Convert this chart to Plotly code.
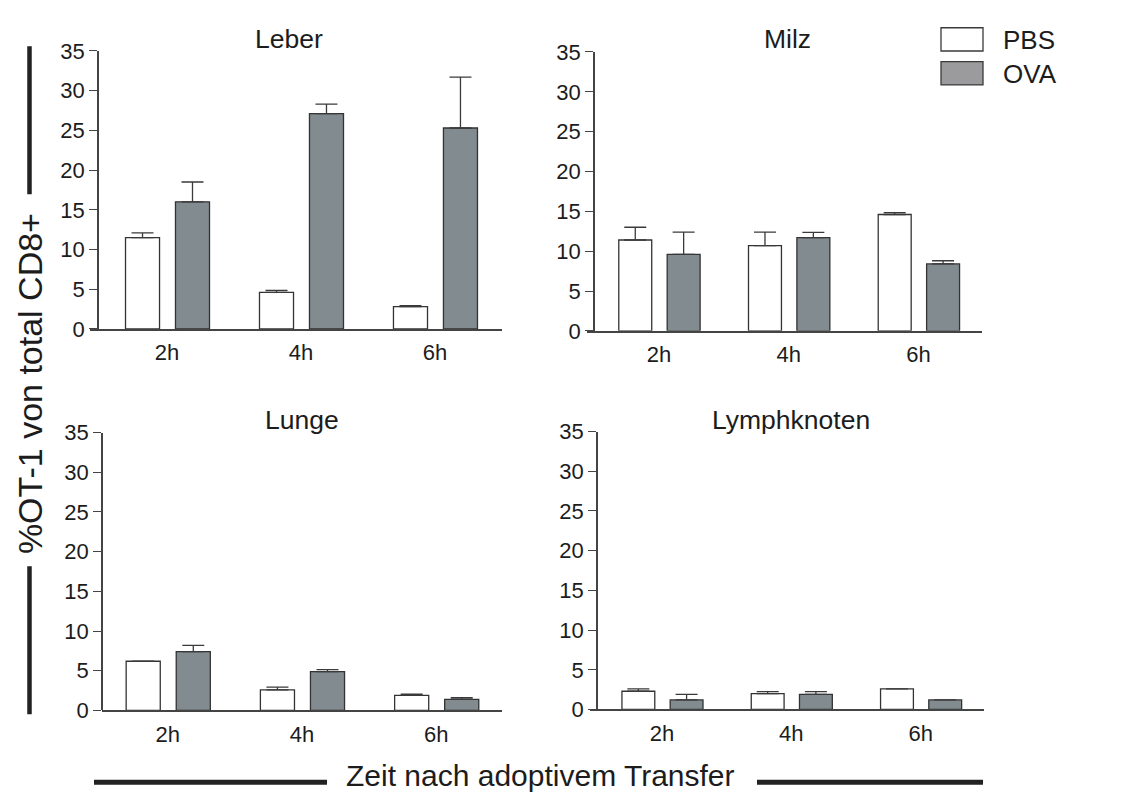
import plotly.graph_objects as go

# ---------------- data ----------------
times = ["2h", "4h", "6h"]
groups = ["PBS", "OVA"]
organs = ["Leber", "Milz", "Lunge", "Lymphknoten"]

leber_pbs = [11.5, 4.6, 2.8]
leber_pbs_err = [0.6, 0.25, 0.12]
leber_ova = [16.0, 27.1, 25.3]
leber_ova_err = [2.5, 1.2, 6.4]

milz_pbs = [11.4, 10.7, 14.6]
milz_pbs_err = [1.6, 1.7, 0.25]
milz_ova = [9.6, 11.7, 8.4]
milz_ova_err = [2.8, 0.65, 0.4]

lunge_pbs = [6.2, 2.6, 1.9]
lunge_pbs_err = [0.0, 0.35, 0.15]
lunge_ova = [7.4, 4.9, 1.4]
lunge_ova_err = [0.8, 0.25, 0.2]

lymph_pbs = [2.3, 2.0, 2.6]
lymph_pbs_err = [0.3, 0.25, 0.0]
lymph_ova = [1.2, 1.9, 1.2]
lymph_ova_err = [0.7, 0.35, 0.0]

y_ticks = [0, 5, 10, 15, 20, 25, 30, 35]
y_label = "%OT-1 von total CD8+"
x_label = "Zeit nach adoptivem Transfer"

values = {
    "Leber": (leber_pbs, leber_pbs_err, leber_ova, leber_ova_err),
    "Milz": (milz_pbs, milz_pbs_err, milz_ova, milz_ova_err),
    "Lunge": (lunge_pbs, lunge_pbs_err, lunge_ova, lunge_ova_err),
    "Lymphknoten": (lymph_pbs, lymph_pbs_err, lymph_ova, lymph_ova_err),
}

# ---------------- styling / layout ----------------
PAGE_W, PAGE_H = 1121, 807
BODY_MARGIN = 8  # default page margin around the plot div
W, H = PAGE_W - 2 * BODY_MARGIN, PAGE_H - 2 * BODY_MARGIN
FONT = "Liberation Sans, Arial, Helvetica, sans-serif"
TXT = "#1c1c1c"
AXC = "#444444"
OVA_FILL = "#828b90"
PBS_FILL = "#ffffff"
EDGE = "#333333"


def px(p):
    return (p - BODY_MARGIN) / W


def py(p):
    return 1 - (p - BODY_MARGIN) / H


# panel geometry in page pixels
panels = {
    "Leber": dict(xd=(90, 502), ypos=98, yt=40, yb=327, xr=(-0.575, 2.5), tx=289, ty=28),
    "Milz": dict(xd=(587, 982), ypos=594, yt=41, yb=329, xr=(-0.555, 2.49), tx=787, ty=28),
    "Lunge": dict(xd=(102, 502), ypos=102, yt=434, yb=721, xr=(-0.49, 2.49), tx=302, ty=421),
    "Lymphknoten": dict(xd=(590, 984), ypos=597, yt=433, yb=720, xr=(-0.557, 2.49), tx=791, ty=421),
}

BAR_W = 0.254
OFFSETS = {"PBS": -0.31, "OVA": 0.063}

fig = go.Figure()
layout = {}
annotations = []

for i, organ in enumerate(organs):
    n = "" if i == 0 else str(i + 1)
    g = panels[organ]
    pbs, pbs_err, ova, ova_err = values[organ]
    for grp, vals, errs, fill in (("PBS", pbs, pbs_err, PBS_FILL), ("OVA", ova, ova_err, OVA_FILL)):
        fig.add_trace(go.Bar(
            x=times, y=vals, name=grp, showlegend=False,
            width=BAR_W, offset=OFFSETS[grp],
            marker=dict(color=fill, line=dict(color=EDGE, width=1.3)),
            error_y=dict(type="data", symmetric=False, array=errs,
                         arrayminus=[0] * len(errs), color="#3a3a3a",
                         thickness=1.3, width=11),
            xaxis="x" + n, yaxis="y" + n,
        ))
    layout["xaxis" + n] = dict(
        domain=[px(g["xd"][0]), px(g["xd"][1])], anchor="y" + n,
        range=list(g["xr"]), type="category",
        showline=True, linecolor=AXC, linewidth=1.5,
        ticks="", showgrid=False, zeroline=False,
        tickfont=dict(family=FONT, size=22, color=TXT),
        ticklabelstandoff=3,
    )
    layout["yaxis" + n] = dict(
        domain=[py(g["yb"]), py(g["yt"])], anchor="free", position=px(g["ypos"]),
        range=[0, 35], tickvals=y_ticks,
        showline=True, linecolor=AXC, linewidth=1.5,
        ticks="outside", ticklen=8, tickwidth=1.3, tickcolor=AXC,
        showgrid=False, zeroline=False,
        tickfont=dict(family=FONT, size=22, color=TXT),
    )
    annotations.append(dict(
        text=organ, x=px(g["tx"]), y=py(g["ty"]), xref="paper", yref="paper",
        xanchor="center", yanchor="middle", showarrow=False,
        font=dict(family=FONT, size=26.5, color=TXT),
    ))

# legend (drawn manually as large boxes)
shapes = []
legend_rows = [("PBS", PBS_FILL, 16, 40, 28.5), ("OVA", "#9b9b9d", 51, 75, 63.5)]
for name, fill, y0, y1, ym in legend_rows:
    shapes.append(dict(type="rect", xref="paper", yref="paper",
                       x0=px(941), x1=px(983), y0=py(y1), y1=py(y0),
                       fillcolor=fill, line=dict(color="#3a3a3a", width=1.3)))
    annotations.append(dict(text=name, x=px(1001), y=py(ym), xref="paper", yref="paper",
                            xanchor="left", yanchor="middle", showarrow=False,
                            font=dict(family=FONT, size=26, color=TXT)))

# y label with bracket lines
annotations.append(dict(text=y_label, x=px(30), y=py(384), xref="paper", yref="paper",
                        xanchor="center", yanchor="middle", textangle=-90, showarrow=False,
                        font=dict(family=FONT, size=34, color=TXT)))
for y0, y1 in ((35, 188), (572, 725)):
    shapes.append(dict(type="line", xref="paper", yref="paper",
                       x0=px(29.5), x1=px(29.5), y0=py(y0), y1=py(y1),
                       line=dict(color="#222222", width=4.5)))

# x label with lines
annotations.append(dict(text=x_label, x=px(540), y=py(788), xref="paper", yref="paper",
                        xanchor="center", yanchor="middle", showarrow=False,
                        font=dict(family=FONT, size=30, color=TXT)))
for x0, x1 in ((94, 327), (757, 983)):
    shapes.append(dict(type="line", xref="paper", yref="paper",
                       x0=px(x0), x1=px(x1), y0=py(795), y1=py(795),
                       line=dict(color="#222222", width=5)))

fig.update_layout(
    width=W, height=H,
    margin=dict(l=0, r=0, t=0, b=0),
    paper_bgcolor="white", plot_bgcolor="white",
    barmode="overlay",
    showlegend=False,
    annotations=annotations,
    shapes=shapes,
    font=dict(family=FONT, color=TXT),
    **layout,
)

fig.write_html("out.html")
